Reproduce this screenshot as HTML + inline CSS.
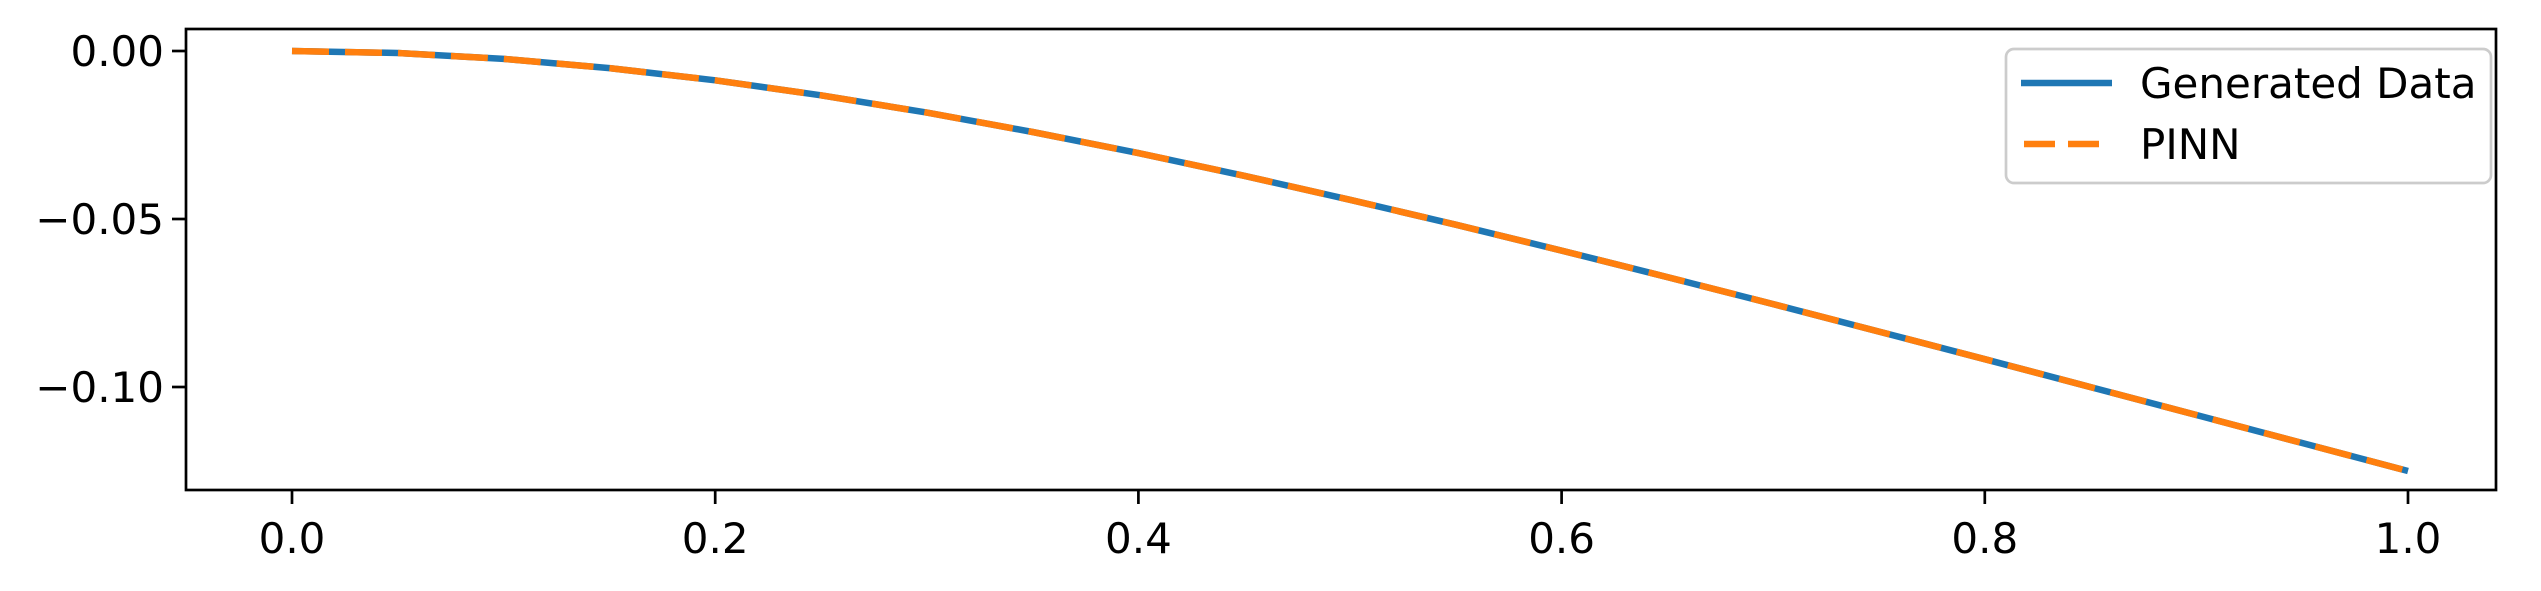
<!DOCTYPE html>
<html><head><meta charset="utf-8"><style>
body{margin:0;background:#fff;}
svg{display:block;font-family:"DejaVu Sans","Liberation Sans",sans-serif;}
</style></head><body>
<svg id="chart" width="2541" height="591" viewBox="0 0 2541 591">
<rect x="0" y="0" width="2541" height="591" fill="#fff"/>
<g id="plot"></g>
</svg>
<script>
const xValues = [0,0.05,0.1,0.15,0.2,0.25,0.3,0.35,0.4,0.45,0.5,0.55,0.6,0.65,0.7,0.75,0.8,0.85,0.9,0.95,1.0];
const generatedData = [0,-0.0006,-0.00234,-0.00508,-0.00873,-0.01318,-0.01834,-0.0241,-0.0304,-0.03715,-0.0443,-0.05171,-0.0594,-0.06729,-0.07534,-0.0835,-0.09173,-0.10002,-0.10834,-0.11667,-0.125];
const pinnData = [0,-0.0006,-0.00234,-0.00508,-0.00873,-0.01318,-0.01834,-0.0241,-0.0304,-0.03715,-0.0443,-0.05171,-0.0594,-0.06729,-0.07534,-0.0835,-0.09173,-0.10002,-0.10834,-0.11667,-0.125];
const xTicks = [0,0.2,0.4,0.6,0.8,1.0];
const xTickLabels = ["0.0","0.2","0.4","0.6","0.8","1.0"];
const yTicks = [0,-0.05,-0.10];
const yTickLabels = ["0.00","\u22120.05","\u22120.10"];

const NS="http://www.w3.org/2000/svg";
const L=186,R=2496,T=29,B=490;
const X0=292,XS=2116, Y0=51,YS=168/0.05;
const sx=v=>X0+v*XS, sy=v=>Y0-v*YS;
const g=document.getElementById('plot');
function mk(tag,attrs){const e=document.createElementNS(NS,tag);for(const k in attrs)e.setAttribute(k,attrs[k]);g.appendChild(e);return e;}

const clip=document.createElementNS(NS,'clipPath');clip.setAttribute('id','c');
const cr=document.createElementNS(NS,'rect');cr.setAttribute('x',L);cr.setAttribute('y',T);cr.setAttribute('width',R-L);cr.setAttribute('height',B-T);
clip.appendChild(cr);g.appendChild(clip);

const pts1=xValues.map((x,i)=>sx(x).toFixed(1)+','+sy(generatedData[i]).toFixed(1)).join(' ');
const l1=mk('polyline',{points:pts1,fill:'none',stroke:'#1f77b4','stroke-width':6.5,'clip-path':'url(#c)'});


const pts2=xValues.map((x,i)=>sx(x).toFixed(1)+','+sy(pinnData[i]).toFixed(1)).join(' ');
const l2=mk('polyline',{points:pts2,fill:'none',stroke:'#ff7f0e','stroke-width':6.5,'stroke-dasharray':'37 16','clip-path':'url(#c)'});



const frame=mk('rect',{x:L,y:T,width:R-L,height:B-T,fill:'none',stroke:'#000','stroke-width':2.7});



xTicks.forEach((v,i)=>{
  const t=mk('line',{x1:sx(v),x2:sx(v),y1:B,y2:B+14,stroke:'#000','stroke-width':2.7});
  
  
  const tx=mk('text',{x:sx(v),y:553,'text-anchor':'middle','font-size':42,fill:'#000'});
  tx.textContent=xTickLabels[i];
  
  
});
yTicks.forEach((v,i)=>{
  const t=mk('line',{x1:L-14,x2:L,y1:sy(v),y2:sy(v),stroke:'#000','stroke-width':2.7});
  
  
  const tx=mk('text',{x:164,y:sy(v)+15,'text-anchor':'end','font-size':42,fill:'#000'});
  tx.textContent=yTickLabels[i];
  
  
});

const lg=mk('rect',{x:2006,y:49,width:485,height:134,rx:8,fill:'#fff','fill-opacity':0.8,stroke:'#ccc','stroke-width':2.7});


const le1=mk('line',{x1:2021,x2:2112,y1:83,y2:83,stroke:'#1f77b4','stroke-width':6.5});


const lt1=mk('text',{x:2140,y:98,'font-size':42,fill:'#000'});lt1.textContent='Generated Data';


const le2=mk('line',{x1:2024,x2:2112,y1:144,y2:144,stroke:'#ff7f0e','stroke-width':6.5,'stroke-dasharray':'31 13'});


const lt2=mk('text',{x:2140,y:159,'font-size':42,fill:'#000'});lt2.textContent='PINN';


</script>
</body></html>
